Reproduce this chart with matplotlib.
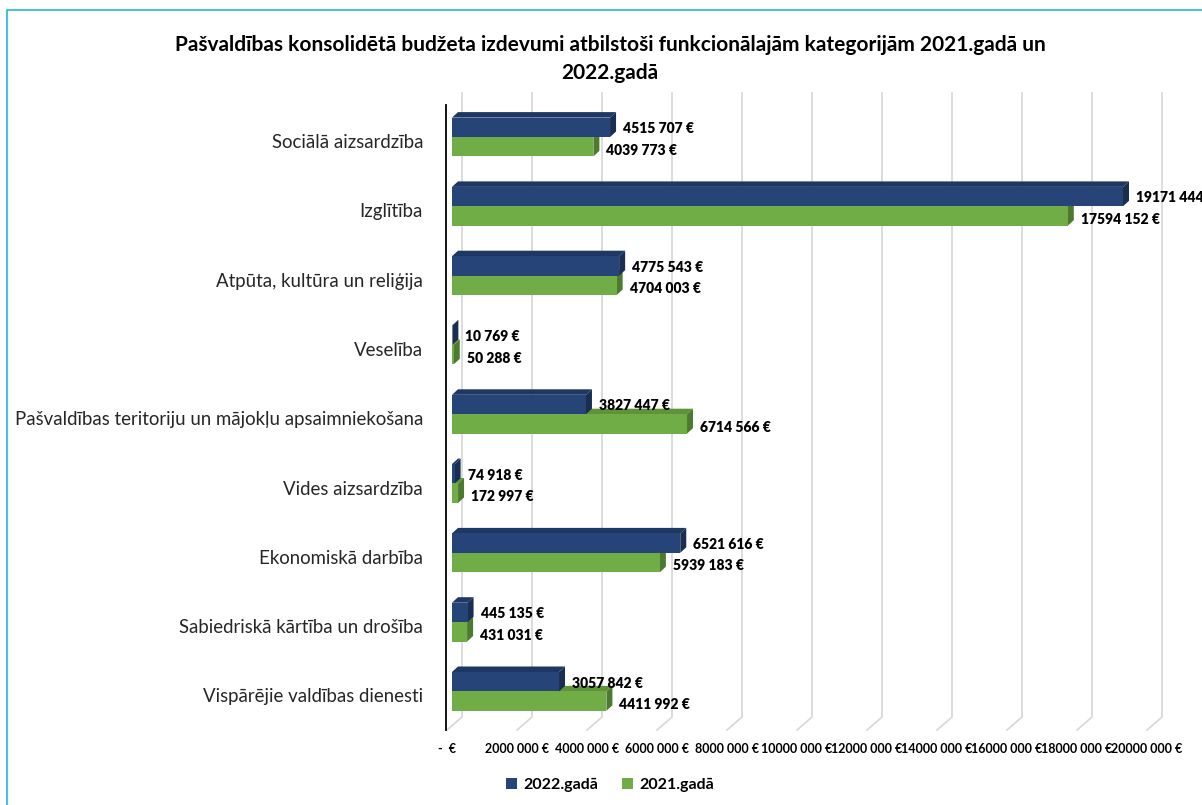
import numpy as np
from matplotlib import pyplot as plt
from matplotlib.patches import Polygon, Rectangle

kategorijas = [
    "Sociālā aizsardzība",
    "Izglītība",
    "Atpūta, kultūra un reliģija",
    "Veselība",
    "Pašvaldības teritoriju un mājokļu apsaimniekošana",
    "Vides aizsardzība",
    "Ekonomiskā darbība",
    "Sabiedriskā kārtība un drošība",
    "Vispārējie valdības dienesti",
]
izdevumi_2022 = [4515707, 19171444, 4775543, 10769, 3827447, 74918, 6521616, 445135, 3057842]
izdevumi_2021 = [4039773, 17594152, 4704003, 50288, 6714566, 172997, 5939183, 431031, 4411992]
ass_vertibas = list(range(0, 20000001, 2000000))

zils = "#264478"
zils_augsa = "#1E3763"
zils_sans = "#1A2E52"
zals = "#70AD47"
zals_augsa = "#5E9339"
zals_sans = "#4E7A30"
rezgis = "#D9D9D9"


def formats(v):
    if v == 0:
        return "-  €"
    return f"{v // 1000} {v % 1000:03d} €"


plt.rcParams['font.family'] = ['Lato', 'DejaVu Sans']

fig = plt.figure(figsize=(12.02, 8.05), dpi=100)
W, H = 1202, 805
px_per_m = 35.0
x_max = (1190 - 447) / px_per_m * 1e6
y_top, y_bot = (93 - 137) / 69.3, (730 - 137) / 69.3
ax = fig.add_axes([447 / W, 1 - 730 / H, (1190 - 447) / W, (730 - 93) / H])
ax.set_xlim(0, x_max)
ax.set_ylim(y_bot, y_top)
for s in ax.spines.values():
    s.set_visible(False)

# 3D nobīdes datu vienībās
m = 1e6 / px_per_m            # euro uz pikseli
sienas_dx = 15 * m
grida_aug = (717 - 137) / 69.3
stab_x0 = 5 * m
dx, dy = 6 * m, 5.5 / 69.3
h = 0.28

# rezga linijas (aizmugures siena + grida)
for v in ass_vertibas:
    ax.plot([v + sienas_dx, v + sienas_dx, v], [y_top, grida_aug, y_bot],
            color=rezgis, lw=1.3, clip_on=False, zorder=1)

# vertikala ass
ax.plot([-1 * m, -1 * m], [(105 - 137) / 69.3, y_bot], color="black", lw=1.3,
        clip_on=False, zorder=5)


def stabins(ax, y0, v, c_prieksa, c_augsa, c_sans):
    x0, x1 = stab_x0, stab_x0 + v
    ax.add_patch(Polygon([(x0, y0), (x0 + dx, y0 - dy), (x1 + dx, y0 - dy), (x1, y0)],
                         closed=True, fc=c_augsa, ec="none", zorder=3))
    ax.add_patch(Polygon([(x1, y0), (x1 + dx, y0 - dy), (x1 + dx, y0 + h - dy), (x1, y0 + h)],
                         closed=True, fc=c_sans, ec="none", zorder=3))
    ax.add_patch(Rectangle((x0, y0), v, h, fc=c_prieksa, ec="none", zorder=3))


for i, (v22, v21) in enumerate(zip(izdevumi_2022, izdevumi_2021)):
    stabins(ax, i, v21, zals, zals_augsa, zals_sans)
    stabins(ax, i - h, v22, zils, zils_augsa, zils_sans)
    ax.text(stab_x0 + v22 + 13 * m, i - h / 2 + 0.02, formats(v22), ha="left", va="center",
            fontsize=10, fontweight="heavy", color="black", zorder=6, clip_on=False)
    ax.text(stab_x0 + v21 + 13 * m, i + h / 2 + 0.05, formats(v21), ha="left", va="center",
            fontsize=10, fontweight="heavy", color="black", zorder=6, clip_on=False)
    ax.text(-24 * m, i + 0.08, kategorijas[i], ha="right", va="center",
            fontsize=13.4, color="#262626", clip_on=False)

ax.set_yticks([])
ax.set_xticks(ass_vertibas)
ax.set_xticklabels([formats(v) for v in ass_vertibas], fontsize=9, fontweight="bold")
ax.tick_params(axis="x", length=0, pad=9)

fig.text(610 / W, 1 - 45 / H,
         "Pašvaldības konsolidētā budžeta izdevumi atbilstoši funkcionālajām kategorijām 2021.gadā un",
         ha="center", va="center", fontsize=15, fontweight="bold")
fig.text(610 / W, 1 - 73 / H, "2022.gadā", ha="center", va="center", fontsize=15, fontweight="bold")

leg = fig.legend(handles=[Rectangle((0, 0), 1, 1, fc=zils), Rectangle((0, 0), 1, 1, fc=zals)],
                 labels=["2022.gadā", "2021.gadā"], loc="center", ncol=2,
                 bbox_to_anchor=(610 / W, 1 - 785 / H), frameon=False,
                 prop={"size": 11.5, "weight": "bold"}, handlelength=0.7, handleheight=0.7,
                 handletextpad=0.4, columnspacing=1.5)

fig.add_artist(Rectangle((7 / W, -0.01), 1.1, 1 - 10 / H + 0.01, transform=fig.transFigure,
                         fill=False, ec="#1FB4EA", lw=1.2))

fig.savefig("out.png", dpi=100)
